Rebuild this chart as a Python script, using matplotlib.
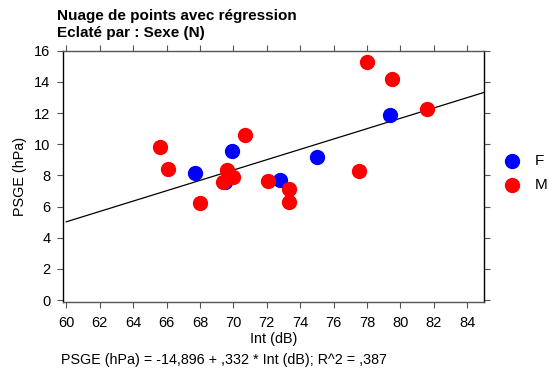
import numpy as np
import matplotlib
matplotlib.use("Agg")
import matplotlib.pyplot as plt
from matplotlib.lines import Line2D

plt.rcParams['font.family'] = ['Liberation Sans', 'DejaVu Sans']

# F (blue)
f_x = [67.7, 69.5, 69.9, 72.8, 75.0, 79.4]
f_y = [8.15, 7.56, 9.55, 7.71, 9.2, 11.9]
# M (red)
m_x = [65.6, 66.1, 68.0, 69.4, 69.6, 70.0, 70.7, 72.1, 73.3, 73.3, 77.5, 78.0, 79.5, 81.6]
m_y = [9.82, 8.39, 6.23, 7.55, 8.33, 7.9, 10.62, 7.65, 7.12, 6.31, 8.29, 15.28, 14.21, 12.28]

intercept = -14.896
slope = 0.332
xticks = list(range(60, 85, 2))
yticks = list(range(0, 17, 2))
groups = ['F', 'M']
colors = ['#0000ff', '#ff0000']

fig = plt.figure(figsize=(5.5, 3.74), dpi=100)
ax = fig.add_axes([0.1145, 0.1934, 0.7655, 0.671])

xs = np.array([60, 85])
ax.plot(xs, intercept + slope * xs, color='black', lw=0.9, zorder=2)

ax.scatter(f_x, f_y, s=100, color=colors[0], edgecolors=colors[0], zorder=3)
ax.scatter(m_x, m_y, s=100, color=colors[1], edgecolors=colors[1], zorder=4)

ax.set_xlim(59.8, 85)
ax.set_ylim(-0.1, 16)
ax.set_xticks(xticks)
ax.set_yticks(yticks)
ax.tick_params(labelsize=10.5, length=4, direction='out', top=True, right=True,
               labeltop=False, labelright=False, color='#555555')
ax.tick_params(axis='x', pad=6)
ax.tick_params(axis='y', pad=5)
for s in ax.spines.values():
    s.set_color('black')
    s.set_linewidth(1.0)
ax.spines['bottom'].set_color('#555555')
ax.spines['top'].set_color('#555555')

ax.set_xlabel('Int (dB)', fontsize=10.4, labelpad=2)
ax.set_ylabel('PSGE (hPa)', fontsize=10.4, labelpad=5)

fig.text(57 / 550, 1 - 16 / 374, 'Nuage de points avec régression', fontsize=11,
         fontweight='bold', va='center')
fig.text(57 / 550, 1 - 33 / 374, 'Eclaté par : Sexe (N)', fontsize=11,
         fontweight='bold', va='center')
fig.text(61 / 550, 1 - 360 / 374, 'PSGE (hPa) = -14,896 + ,332 * Int (dB); R^2 = ,387',
         fontsize=10.3, va='center')

# legend drawn by hand at the right side
for i, (g, c) in enumerate(zip(groups, colors)):
    yy = 1 - (161 + 24 * i) / 374
    fig.add_artist(Line2D([512 / 550], [yy], marker='o', ls='', markersize=10,
                          color=c, transform=fig.transFigure))
    fig.text(535 / 550, yy, g, fontsize=11, va='center')

plt.savefig('out.png', dpi=100)
